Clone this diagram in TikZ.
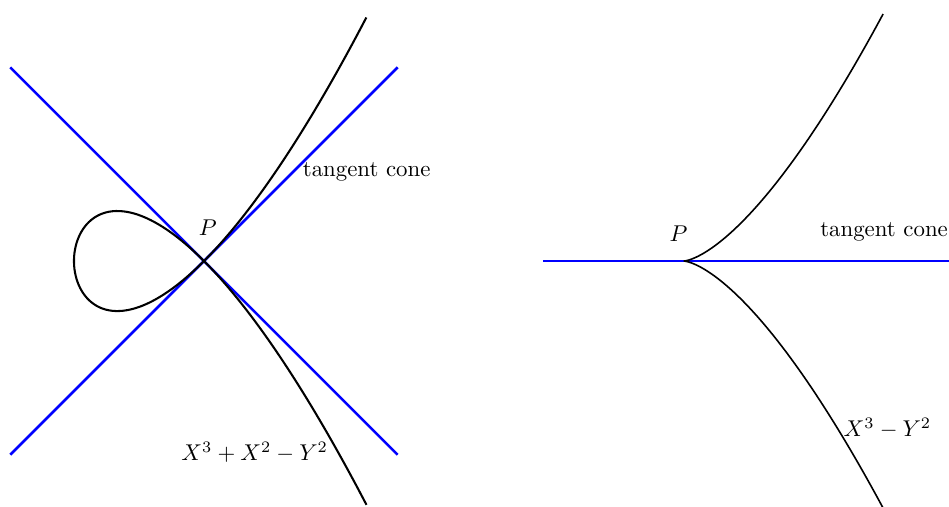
\documentclass[tikz,border=0pt]{standalone}
\usetikzlibrary{positioning}

\begin{document}
\begin{tikzpicture}[
    x=2cm, y=2cm,
    curve/.style={line width=0.9pt, black},
    cone/.style={line width=1.1pt, blue},
    label/.style={inner sep=1pt}
]
\useasboundingbox (-1.569,-1.892) rectangle (5.731,2.008);

% Left: nodal cubic
\coordinate (P1) at (0,0);
\draw[cone] (-1.49,1.49) -- (1.49,-1.49);
\draw[cone] (-1.49,-1.49) -- (1.49,1.49);
\draw[curve] plot[domain=-1.5:1.5, samples=120, smooth] ({\x*\x-1},{\x*(\x*\x-1)});

\node[label] (p1) at (0.03,0.26) {$P$};
\node[label, anchor=west] (tc1) at (0.74,0.685) {tangent cone};
\node[label] (eq1) at (0.39,-1.47) {$X^3+X^2-Y^2$};

% Right: cusp
\coordinate (P2) at (3.69,0);
\draw[cone] (2.61,0) -- (5.75,0);
\begin{scope}[shift={(P2)}]
    \draw[curve, line width=0.7pt] plot[domain=-1.24:1.24, samples=120, smooth] ({\x*\x},{\x*\x*\x});
\end{scope}

\node[label] (p2) at (3.65,0.21) {$P$};
\node[label, anchor=west] (tc2) at (4.72,0.223) {tangent cone};
\node[label, anchor=west] (eq2) at (4.9,-1.285) {$X^3-Y^2$};

\end{tikzpicture}
\end{document}
